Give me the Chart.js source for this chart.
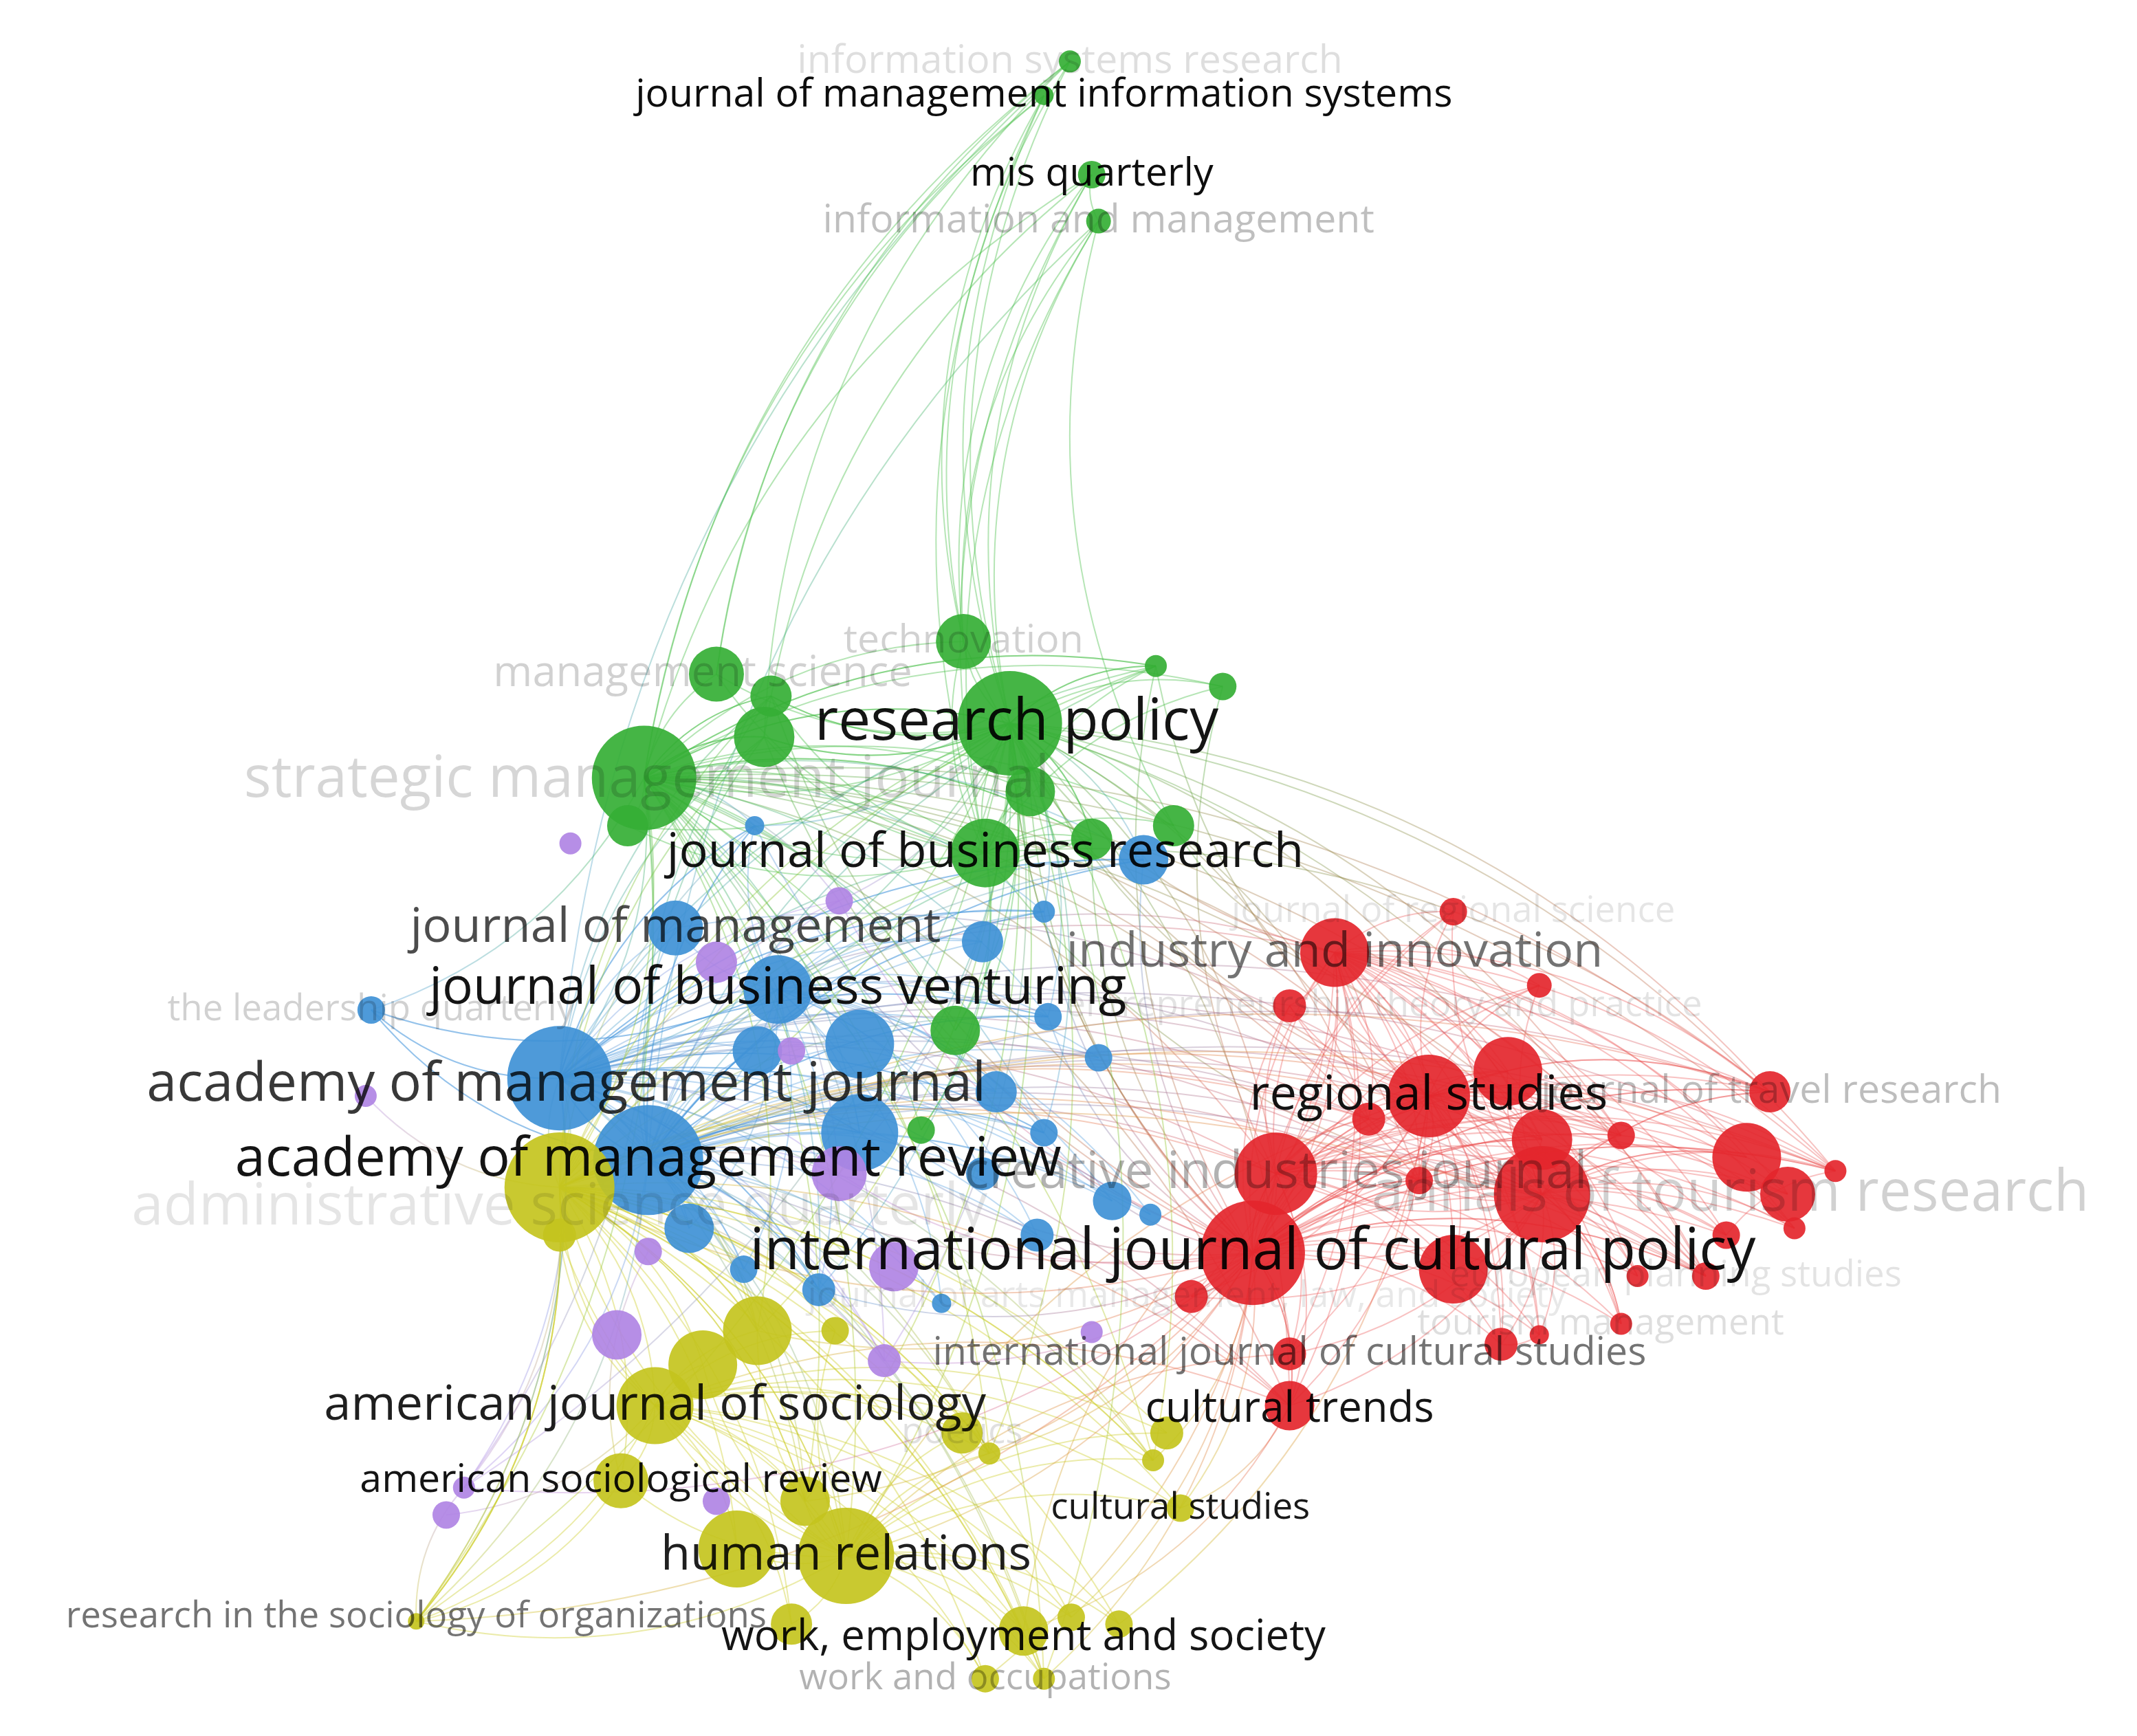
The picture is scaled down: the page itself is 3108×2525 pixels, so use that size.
<!DOCTYPE html>
<html><head><meta charset="utf-8">
<script src="https://cdn.jsdelivr.net/npm/chart.js@4"></script>
<style>html,body{margin:0;padding:0;background:#fff}#w{width:3108px;height:2525px}</style>
</head><body><div id="w"><canvas id="c"></canvas></div>
<script>
const nodeLabels = ["information systems research","journal of management information systems","mis quarterly","information and management","technovation","management science","research policy","strategic management journal","journal of business research","g1","g2","g3","g4","g5","g6","g7","g8","g9","g10",
"journal of management","journal of business venturing","academy of management journal","academy of management review","the leadership quarterly","b1","b2","b3","b4","b5","b6","b7","b8","b9","b10","b11","b12","b13","b14","b15","b16","b17","b18","b19",
"p1","p2","p3","p4","p5","p6","p7","p8","p9","p10","p11","p12","p13","p14",
"administrative science quarterly","american journal of sociology","american sociological review","human relations","work, employment and society","work and occupations","research in the sociology of organizations","cultural studies","poetics","y1","y2","y3","y4","y5","y6","y7","y8","y9","y10","y11","y12","y13",
"industry and innovation","regional studies","creative industries journal","international journal of cultural policy","annals of tourism research","journal of travel research","journal of regional science","entrepreneurship theory and practice","european planning studies","tourism management","international journal of cultural studies","cultural trends","journal of arts management, law, and society","r1","r2","r3","r4","r5","r6","r7","r8","r9","r10","r11","r12","r13","r14","r15"];
const nodeX = [784,765,800,805,706,525,740,472,722,560,755,860,847,896,460,800,700,675,565,
495,570,410,475,272,838,720,630,630,555,730,768,805,815,765,505,545,600,720,760,765,843,690,553,
418,525,615,580,268,615,655,452,648,475,327,340,800,525,
410,480,455,620,750,722,305,865,705,555,515,540,590,580,855,845,785,820,725,410,612,765,
978,1047,935,918,1130,1297,1065,945,1250,1188,945,945,873,1105,1130,1280,1310,1345,1315,1265,1188,1128,1065,1003,1100,1128,1040,1200];
const nodeY = [45,70,128,162,470,494,530,570,625,540,580,605,488,503,605,615,755,828,510,
680,725,790,850,740,630,690,765,830,770,800,745,775,880,830,900,930,945,860,905,668,890,955,605,
618,705,660,770,803,860,928,978,997,917,1110,1090,976,1100,
870,1030,1085,1140,1195,1230,1188,1105,1050,975,1000,1135,1100,1190,1050,1070,1185,1190,1065,905,975,1230,
698,803,860,918,875,800,668,737,935,970,992,1030,950,785,835,848,875,858,900,905,832,722,930,820,985,978,865,935];
const nodeSize = [8,7,10,9,20,20,38,38,25,22,18,15,8,10,15,15,18,10,15,
20,25,38,40,10,18,15,25,28,18,15,10,10,14,10,18,10,12,12,12,8,8,7,7,
8,15,10,10,8,20,18,18,12,10,10,8,8,10,
40,28,20,35,18,10,6,10,15,25,25,28,18,15,12,8,10,10,8,12,10,8,
25,30,30,38,35,15,10,12,10,8,12,18,12,25,22,25,20,8,8,10,10,9,25,12,12,7,10,8];
const nodeCluster = [];
const clusterCounts = [["green",19],["blue",24],["purple",14],["yellow",22],["red",28]];
clusterCounts.forEach(([c,n])=>{for(let i=0;i<n;i++)nodeCluster.push(c);});
const edgeHubs = ["research policy","strategic management journal","academy of management journal","academy of management review","administrative science quarterly","human relations","american journal of sociology","international journal of cultural policy","regional studies","journal of business research","industry and innovation","annals of tourism research","journal of business venturing","creative industries journal"];
const crossHubs = ["academy of management review","academy of management journal","strategic management journal","international journal of cultural policy","research policy","administrative science quarterly"];
const edgePairs = [
["information systems research","research policy"],["information systems research","strategic management journal"],["journal of management information systems","research policy"],["journal of management information systems","management science"],["mis quarterly","research policy"],["mis quarterly","technovation"],["information and management","research policy"],["information and management","journal of business research"],["mis quarterly","strategic management journal"],["information systems research","academy of management journal"],["mis quarterly","information and management"],["journal of management information systems","technovation"],["information and management","g3"],["information systems research","management science"],["information systems research","technovation"],["journal of management information systems","journal of business research"],["mis quarterly","g1"],["information and management","technovation"],["journal of management information systems","strategic management journal"],["mis quarterly","journal of business research"],["information systems research","g1"],["information and management","academy of management review"],
["research policy","industry and innovation"],["research policy","regional studies"],["research policy","international journal of cultural policy"],["technovation","regional studies"],["g3","industry and innovation"],["g4","regional studies"],["journal of business research","annals of tourism research"],["g5","creative industries journal"],["g2","international journal of cultural policy"],
["industry and innovation","academy of management journal"],["regional studies","journal of management"],["annals of tourism research","academy of management review"],["regional studies","human relations"],["creative industries journal","work, employment and society"],["journal of travel research","journal of business research"],["annals of tourism research","journal of business venturing"],["cultural trends","american journal of sociology"],["international journal of cultural studies","human relations"],["regional studies","strategic management journal"],["industry and innovation","journal of business venturing"],
["cultural studies","international journal of cultural policy"],["cultural studies","cultural trends"],["work, employment and society","cultural trends"],["y8","international journal of cultural policy"],["y9","regional studies"],["work and occupations","creative industries journal"],["research in the sociology of organizations","administrative science quarterly"],["research in the sociology of organizations","american sociological review"],["research in the sociology of organizations","academy of management journal"],
["the leadership quarterly","academy of management journal"],["the leadership quarterly","journal of business venturing"],["the leadership quarterly","strategic management journal"],["the leadership quarterly","academy of management review"],["p5","administrative science quarterly"],["p10","american sociological review"],["p11","american journal of sociology"],["p12","research in the sociology of organizations"],
["r5","r7"],["r6","r8"],["r12","r13"],["journal of travel research","annals of tourism research"],["journal of travel research","regional studies"],["r3","annals of tourism research"],["r4","r3"],["tourism management","annals of tourism research"]
];
const labelStyle = {
"information systems research":[13,0.13,0,0],"journal of management information systems":[13,0.95,0,0],"mis quarterly":[13,0.95,0,0],"information and management":[13,0.25,0,0],
"technovation":[13,0.18,0,0],"management science":[14,0.18,-10,0],"research policy":[19,0.92,5,0],"strategic management journal":[19,0.16,2,2],"journal of business research":[16,0.92,0,0],
"journal of management":[16,0.7,0,0],"journal of business venturing":[17,0.92,0,0],"academy of management journal":[18,0.78,5,5],"academy of management review":[18,0.92,0,0],"the leadership quarterly":[12,0.18,0,0],
"administrative science quarterly":[19,0.1,0,15],"american journal of sociology":[16,0.88,0,0],"american sociological review":[13,0.92,0,0],"human relations":[16,0.88,0,0],"work, employment and society":[14,0.92,0,5],"work and occupations":[12,0.3,0,0],"research in the sociology of organizations":[12,0.55,0,-3],"cultural studies":[12,0.9,0,0],"poetics":[12,0.12,0,0],
"industry and innovation":[16,0.55,0,0],"regional studies":[16,0.92,0,0],"creative industries journal":[17,0.3,0,0],"international journal of cultural policy":[19,0.92,0,0],"annals of tourism research":[19,0.18,138,0],"journal of travel research":[13,0.26,1,0],"journal of regional science":[12,0.1,0,0],"entrepreneurship theory and practice":[12,0.11,69,0],"european planning studies":[12,0.11,-22,0],"tourism management":[12,0.13,-15,0],"international journal of cultural studies":[13,0.55,0,0],"cultural trends":[14,0.92,0,3],"journal of arts management, law, and society":[12,0.09,-3,0]
};
const colors = {green:"rgba(53,175,53,0.92)",blue:"rgba(63,145,214,0.92)",purple:"rgba(176,132,228,0.92)",yellow:"rgba(196,196,30,0.92)",red:"rgba(228,38,44,0.92)"};
const edgeColors = {green:"rgba(70,190,70,0.4)",blue:"rgba(70,150,220,0.35)",purple:"rgba(176,132,228,0.35)",yellow:"rgba(205,205,40,0.4)",red:"rgba(235,80,80,0.35)"};

const S = 2;
const idx = {}; nodeLabels.forEach((n,i)=>idx[n]=i);
const points = nodeLabels.map((n,i)=>({x:nodeX[i],y:nodeY[i],r:nodeSize[i]*S}));
const order = points.map((p,i)=>i).sort((a,b)=>nodeSize[b]-nodeSize[a]);

const edgePlugin = {id:"edges",beforeDatasetsDraw(chart){
  const {ctx,scales:{x,y}}=chart; ctx.save(); ctx.lineWidth=2;
  const all = edgePairs.slice();
  edgeHubs.forEach(h=>{const hc=nodeCluster[idx[h]];nodeLabels.forEach((n,i)=>{if(n!==h&&nodeCluster[i]===hc&&nodeY[i]>300)all.push([n,h]);});});
  crossHubs.forEach(h=>{nodeLabels.forEach((n,i)=>{if(n!==h&&nodeY[i]>300&&i%3===0)all.push([n,h]);});});
  all.forEach(([a,b])=>{const i=idx[a],j=idx[b]; if(i===undefined||j===undefined)return;
    const x1=x.getPixelForValue(nodeX[i]),y1=y.getPixelForValue(nodeY[i]),x2=x.getPixelForValue(nodeX[j]),y2=y.getPixelForValue(nodeY[j]);
    const mx=(x1+x2)/2,my=(y1+y2)/2,dx=x2-x1,dy=y2-y1;
    const cx=mx-dy*0.2,cy=my+dx*0.2;
    const g=ctx.createLinearGradient(x1,y1,x2,y2);g.addColorStop(0,edgeColors[nodeCluster[i]]);g.addColorStop(1,edgeColors[nodeCluster[j]]);
    ctx.strokeStyle=g;ctx.beginPath();ctx.moveTo(x1,y1);ctx.quadraticCurveTo(cx,cy,x2,y2);ctx.stroke();});
  ctx.restore();}};
const labelPlugin = {id:"labels",afterDatasetsDraw(chart){
  const {ctx,scales:{x,y}}=chart; ctx.save(); ctx.textAlign="center";ctx.textBaseline="middle";
  Object.entries(labelStyle).sort((a,b)=>a[1][1]-b[1][1]).forEach(([n,[fs,al,dx,dy]])=>{const i=idx[n];
    ctx.font=(fs*S*2.2)+"px 'Open Sans'";ctx.fillStyle="rgba(0,0,0,"+al+")";
    ctx.fillText(n,x.getPixelForValue(nodeX[i]+dx),y.getPixelForValue(nodeY[i]+dy));});
  ctx.restore();}};

new Chart(document.getElementById("c"),{type:"bubble",
  data:{datasets:[{data:order.map(i=>points[i]),backgroundColor:order.map(i=>colors[nodeCluster[i]]),borderWidth:0,clip:false}]},
  options:{responsive:true,maintainAspectRatio:false,animation:false,devicePixelRatio:1,
    layout:{padding:0,autoPadding:false},plugins:{legend:{display:false},tooltip:{enabled:false}},
    scales:{x:{display:false,min:0,max:1566,offset:false},y:{display:false,min:0,max:1272,reverse:true,offset:false}}},
  plugins:[edgePlugin,labelPlugin]});
</script></body></html>
